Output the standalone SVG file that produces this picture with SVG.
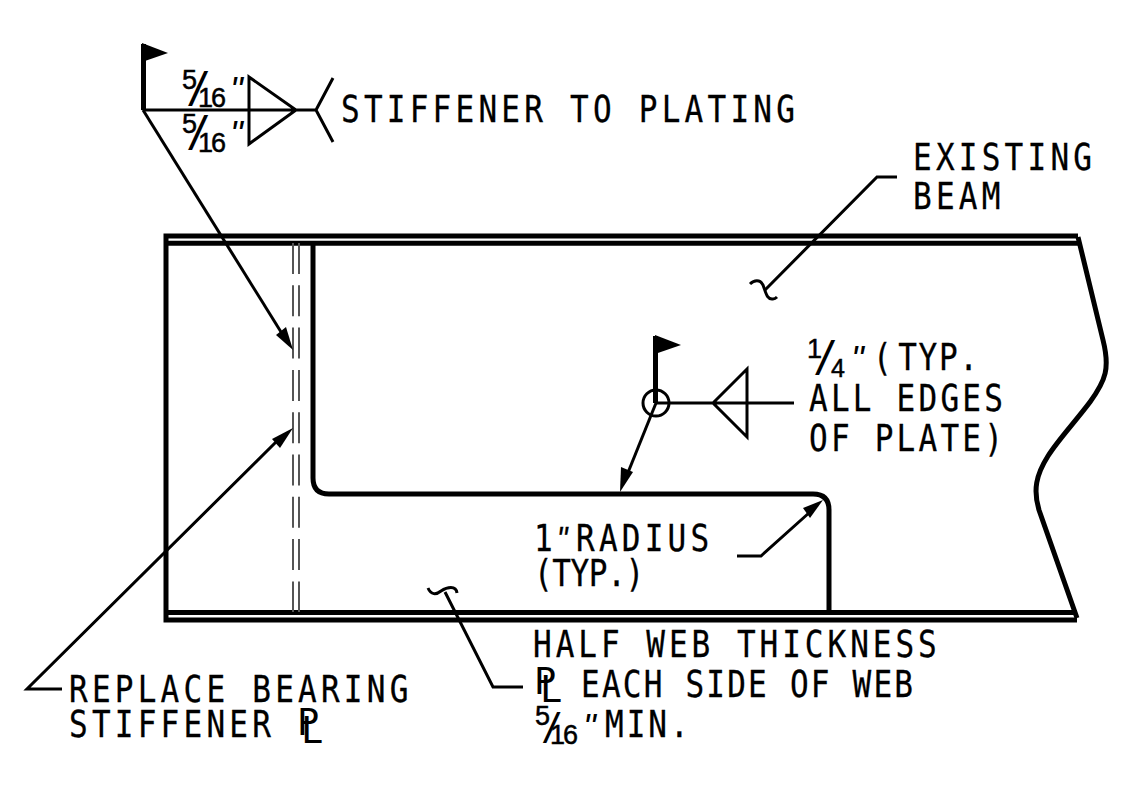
<svg xmlns="http://www.w3.org/2000/svg" width="1143" height="803" viewBox="0 0 1143 803">
<style>
text{font-family:"DejaVu Sans Mono","Liberation Mono",monospace;fill:#000}
.t{font-size:37px;letter-spacing:5px;stroke:#000;stroke-width:.3px}
.s{font-family:"Liberation Sans",Arial,sans-serif;font-size:27px;stroke:#000;stroke-width:.5px}
.sl{font-size:42px}
.q{font-family:"Liberation Sans",Arial,sans-serif;font-size:36px;font-style:italic;letter-spacing:0}
.p{font-size:37px}
.m,.h{fill:none;stroke:#000;stroke-linejoin:miter}
.h{stroke-width:5px}
.m{stroke-width:3px}
.d{fill:none;stroke:#555;stroke-width:2;stroke-dasharray:31 11.3}
.f{fill:#000;stroke:none}
</style>
<rect width="1143" height="803" fill="#fff"/>
<g id="beam">
<path class="h" d="M1078 236H166V620H1077"/>
<path class="h" d="M166 243.300H1080"/>
<path class="h" d="M166 612.500H1077"/>
<path class="h" d="M1078 237L1103 340C1110 368 1106 380 1090 402C1075 422 1058 440 1048 456C1036 475 1033 490 1039 510L1077 618"/>
</g>
<g id="stiffener">
<path class="d" d="M293 243V612M299 243V612"/>
</g>
<g id="plate">
<path class="h" d="M313 244V478Q313 494 329 494H813Q829 494 829 510V612"/>
</g>
<g id="connectors">
<path class="m" d="M143 110L286 340"/>
<path class="f" d="M293 350L276 335L286 327Z"/>
<path class="m" d="M62 689H27L276 442"/>
<path class="f" d="M293 428L272 439L280 448Z"/>
<path class="m" d="M656 403L625 480"/>
<path class="f" d="M620 492L621 467L633 472Z"/>
<path class="m" d="M737 556H761L810 512"/>
<path class="f" d="M823 500L803 508L810 518Z"/>
<path class="m" d="M897 177H877L765 290"/>
<path class="m" d="M750 284C754 280 760 279 763 285C766 293 767 300 773 299C775 299 776 298 777 297"/>
<path class="m" d="M523 687H493L445 592"/>
<path class="m" d="M428 588C431 595 436 595 441 591C447 587 456 585 457 593"/>
</g>
<g id="weld-top">
<path class="h" d="M143.500 44V110"/>
<path class="f" d="M142 43L168 53L142 62Z"/>
<path class="m" d="M143 110H316M316 110L333 78M316 110L333 142M249 77L296 110L249 144Z"/>
<text><tspan class="s" x="182" y="89">5</tspan><tspan class="sl" x="186" y="102">/</tspan><tspan class="s" x="198 211" y="107">16</tspan><tspan class="q" x="230" y="103">"</tspan></text>
<text><tspan class="s" x="182" y="133">5</tspan><tspan class="sl" x="186" y="146">/</tspan><tspan class="s" x="198 211" y="152">16</tspan><tspan class="q" x="230" y="147">"</tspan></text>
<text class="t" transform="translate(341 122) scale(.84 1)">STIFFENER TO PLATING</text>
</g>
<g id="weld-plate">
<path class="h" d="M655.500 336V403"/>
<path class="f" d="M655 335L681 345L655 354Z"/>
<circle class="m" cx="656" cy="403" r="13"/>
<path class="m" d="M656 403H794M713 403L747 369V437Z"/>
<text><tspan class="s" x="807" y="358">1</tspan><tspan class="sl" x="813" y="371">/</tspan><tspan class="s" x="831" y="377" style="font-size:25px">4</tspan><tspan class="q" x="851" y="372">"</tspan></text>
<text class="t" transform="translate(873 370) scale(.84 1)">(<tspan x="30" style="letter-spacing:2px">TYP.</tspan></text>
<text class="t" transform="translate(809 411) scale(.84 1)" style="letter-spacing:3.800px">ALL EDGES</text>
<text class="t" transform="translate(809 451) scale(.84 1)" style="letter-spacing:3.800px">OF PLATE)</text>
</g>
<g id="label-beam">
<text class="t" transform="translate(913 170) scale(.84 1)">EXISTING</text>
<text class="t" transform="translate(913 209) scale(.84 1)">BEAM</text>
</g>
<g id="label-radius">
<text class="t" transform="translate(534 551) scale(.84 1)">1<tspan class="q" x="27">"</tspan><tspan x="50">RADIUS</tspan></text>
<text class="t" transform="translate(534 586) scale(.84 1)" style="letter-spacing:-.5px">(TYP.)</text>
</g>
<g id="label-half">
<text class="t" transform="translate(533 657) scale(.84 1)" style="letter-spacing:4.700px">HALF WEB THICKNESS</text>
<text x="534 540" y="694 702" class="p">PL</text>
<text class="t" transform="translate(581 697) scale(.84 1)" style="letter-spacing:2.600px">EACH SIDE OF WEB</text>
<text><tspan class="s" x="535" y="725">5</tspan><tspan class="sl" x="541" y="739" style="font-size:37px">/</tspan><tspan class="s" x="550 563" y="744">16</tspan><tspan class="q" x="583" y="740">"</tspan></text>
<text class="t" transform="translate(605 737) scale(.84 1)" style="letter-spacing:3.500px">MIN.</text>
</g>
<g id="label-stiffener">
<text class="t" transform="translate(69 702) scale(.84 1)">REPLACE BEARING</text>
<text class="t" transform="translate(69 737) scale(.84 1)">STIFFENER</text>
<text x="297 301" y="735 743" class="p">PL</text>
</g>
</svg>
